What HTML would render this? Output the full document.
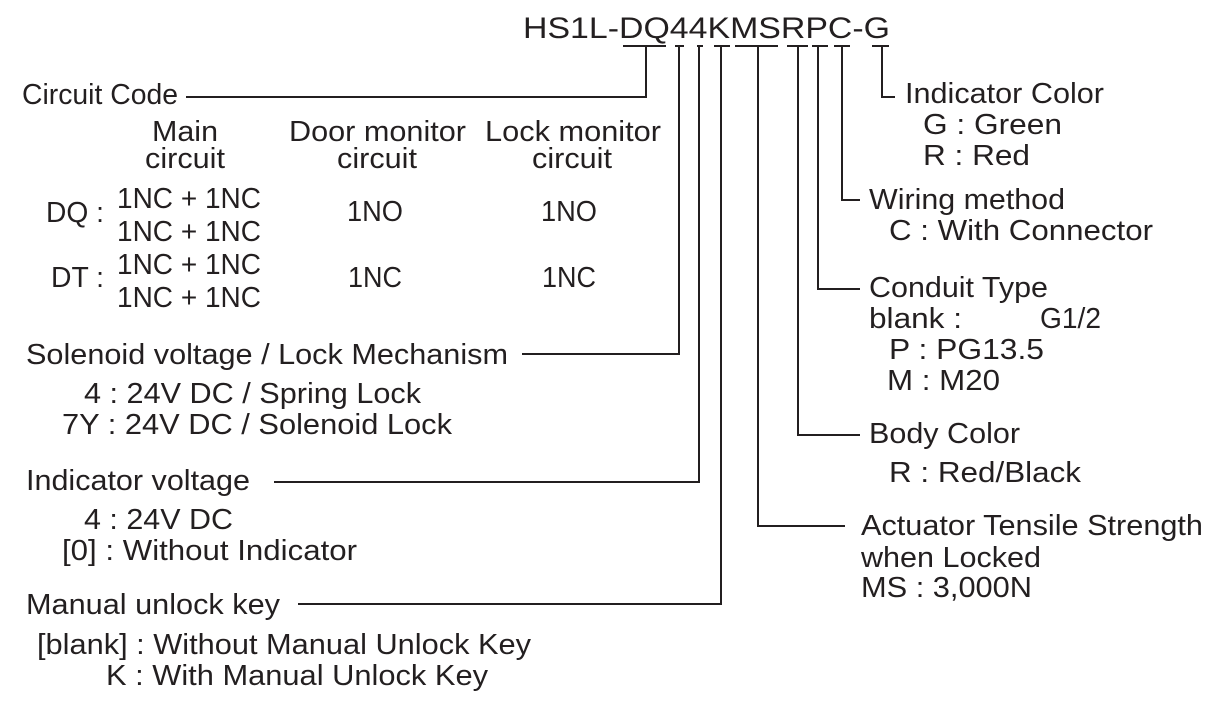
<!DOCTYPE html>
<html><head><meta charset="utf-8"><style>html,body{margin:0;padding:0;background:#fff}svg{display:block}text{font-family:"Liberation Sans",Arial,sans-serif;font-size:29px;fill:#231f20}</style></head>
<body>
<svg width="1213" height="701" viewBox="0 0 1213 701" xmlns="http://www.w3.org/2000/svg">
<g stroke="#231f20" stroke-width="2" fill="none">
<path d="M623 46H666M675 46H684M697 46H703M714 46H730M735 46H778M787 46H808M812 46H828M834 46H850M872 46H889"/>
<path d="M646 46V97H186"/>
<path d="M679 46V354H522"/>
<path d="M699 46V482H274"/>
<path d="M721 46V604H298"/>
<path d="M758 46V526H845"/>
<path d="M798 46V435H860"/>
<path d="M818 46V289H860"/>
<path d="M842 46V200H860"/>
<path d="M882 46V97H895"/>
</g>
<text x="523" y="38" textLength="367" lengthAdjust="spacingAndGlyphs" style="font-size:30px">HS1L-DQ44KMSRPC-G</text>
<text x="22" y="104" textLength="156" lengthAdjust="spacingAndGlyphs">Circuit Code</text>
<text x="185" y="141" text-anchor="middle" textLength="66" lengthAdjust="spacingAndGlyphs">Main</text>
<text x="185" y="168" text-anchor="middle" textLength="80" lengthAdjust="spacingAndGlyphs">circuit</text>
<text x="289" y="141" textLength="177" lengthAdjust="spacingAndGlyphs">Door monitor</text>
<text x="377" y="168" text-anchor="middle" textLength="80" lengthAdjust="spacingAndGlyphs">circuit</text>
<text x="485" y="141" textLength="176" lengthAdjust="spacingAndGlyphs">Lock monitor</text>
<text x="572" y="168" text-anchor="middle" textLength="80" lengthAdjust="spacingAndGlyphs">circuit</text>
<text x="46" y="222" textLength="58" lengthAdjust="spacingAndGlyphs">DQ :</text>
<text x="117" y="208" textLength="144" lengthAdjust="spacingAndGlyphs">1NC + 1NC</text>
<text x="117" y="241" textLength="144" lengthAdjust="spacingAndGlyphs">1NC + 1NC</text>
<text x="375" y="221" text-anchor="middle" textLength="56" lengthAdjust="spacingAndGlyphs">1NO</text>
<text x="569" y="221" text-anchor="middle" textLength="56" lengthAdjust="spacingAndGlyphs">1NO</text>
<text x="51" y="287" textLength="53" lengthAdjust="spacingAndGlyphs">DT :</text>
<text x="117" y="274" textLength="144" lengthAdjust="spacingAndGlyphs">1NC + 1NC</text>
<text x="117" y="307" textLength="144" lengthAdjust="spacingAndGlyphs">1NC + 1NC</text>
<text x="375" y="287" text-anchor="middle" textLength="54" lengthAdjust="spacingAndGlyphs">1NC</text>
<text x="569" y="287" text-anchor="middle" textLength="54" lengthAdjust="spacingAndGlyphs">1NC</text>
<text x="26" y="364" textLength="482" lengthAdjust="spacingAndGlyphs">Solenoid voltage / Lock Mechanism</text>
<text x="84" y="403" textLength="337" lengthAdjust="spacingAndGlyphs">4 : 24V DC / Spring Lock</text>
<text x="62" y="434" textLength="390" lengthAdjust="spacingAndGlyphs">7Y : 24V DC / Solenoid Lock</text>
<text x="26" y="490" textLength="224" lengthAdjust="spacingAndGlyphs">Indicator voltage</text>
<text x="84" y="529" textLength="149" lengthAdjust="spacingAndGlyphs">4 : 24V DC</text>
<text x="62" y="560" textLength="295" lengthAdjust="spacingAndGlyphs">[0] : Without Indicator</text>
<text x="26" y="614" textLength="254" lengthAdjust="spacingAndGlyphs">Manual unlock key</text>
<text x="37" y="654" textLength="494" lengthAdjust="spacingAndGlyphs">[blank] : Without Manual Unlock Key</text>
<text x="106" y="685" textLength="382" lengthAdjust="spacingAndGlyphs">K : With Manual Unlock Key</text>
<text x="905" y="103" textLength="199" lengthAdjust="spacingAndGlyphs">Indicator Color</text>
<text x="923" y="134" textLength="139" lengthAdjust="spacingAndGlyphs">G : Green</text>
<text x="923" y="165" textLength="107" lengthAdjust="spacingAndGlyphs">R : Red</text>
<text x="869" y="209" textLength="196" lengthAdjust="spacingAndGlyphs">Wiring method</text>
<text x="889" y="240" textLength="264" lengthAdjust="spacingAndGlyphs">C : With Connector</text>
<text x="869" y="297" textLength="179" lengthAdjust="spacingAndGlyphs">Conduit Type</text>
<text x="869" y="328" textLength="93" lengthAdjust="spacingAndGlyphs">blank :</text>
<text x="1040" y="328" textLength="61" lengthAdjust="spacingAndGlyphs">G1/2</text>
<text x="889" y="359" textLength="155" lengthAdjust="spacingAndGlyphs">P : PG13.5</text>
<text x="887" y="390" textLength="113" lengthAdjust="spacingAndGlyphs">M : M20</text>
<text x="869" y="443" textLength="151" lengthAdjust="spacingAndGlyphs">Body Color</text>
<text x="889" y="482" textLength="192" lengthAdjust="spacingAndGlyphs">R : Red/Black</text>
<text x="861" y="535" textLength="342" lengthAdjust="spacingAndGlyphs">Actuator Tensile Strength</text>
<text x="861" y="567" textLength="180" lengthAdjust="spacingAndGlyphs">when Locked</text>
<text x="861" y="597" textLength="171" lengthAdjust="spacingAndGlyphs">MS : 3,000N</text>
</svg>
</body></html>
